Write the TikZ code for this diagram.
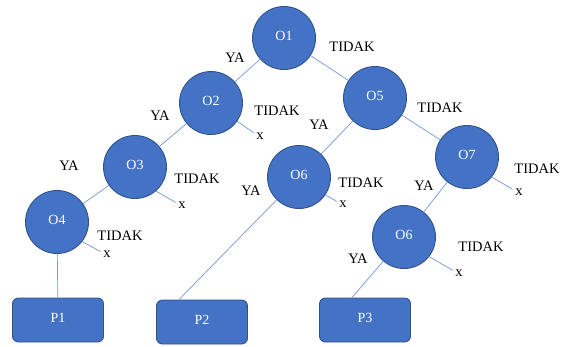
\documentclass[tikz,border=0pt]{standalone}
\usepackage{fontspec}
\setmainfont{Liberation Serif}
\usepackage{tikz}
\definecolor{nodeblue}{HTML}{4472C4}
\definecolor{nodeedge}{HTML}{2F528F}
\definecolor{linkblue}{HTML}{7396D6}
\tikzset{
  obs/.style={circle, fill=nodeblue, draw=nodeedge, line width=0.9pt, minimum size=63pt, inner sep=0pt, text=white, font=\fontsize{14pt}{16pt}\selectfont},
  leaf/.style={rectangle, rounded corners=6pt, fill=nodeblue, draw=nodeedge, line width=0.9pt, minimum width=91pt, minimum height=44pt, text=white, font=\fontsize{14pt}{16pt}\selectfont},
  link/.style={linkblue, line width=0.7pt},
  lbl/.style={inner sep=0pt},
  cross/.style={inner sep=2.5pt}
}

\begin{document}
\begin{tikzpicture}[x=1pt, y=-1pt, text height = 1.5ex, text depth = .25ex, font=\fontsize{14.5pt}{17pt}\selectfont]
\useasboundingbox (0,0) rectangle (561,346);
% circles
\node[obs] (o1) at (284,38) {O1};
\node[obs] (o2) at (211,103) {O2};
\node[obs] (o3) at (135,167) {O3};
\node[obs] (o4) at (57,222) {O4};
\node[obs] (o5) at (375,98) {O5};
\node[obs] (o6a) at (299,177) {O6};
\node[obs] (o7) at (467,157) {O7};
\node[obs] (o6b) at (404,237) {O6};
% boxes
\node[leaf] (p1) at (58,320) {P1};
\node[leaf] (p2) at (202,322) {P2};
\node[leaf] (p3) at (365,320) {P3};

% branches
\draw[link] (o1) -- (o2);
\draw[link] (o1) -- (o5);
\draw[link] (o2) -- (o3);
\draw[link] (o3) -- (o4);
\draw[link] (o4) -- (p1);
\draw[link] (o5) -- (o6a);
\draw[link] (o5) -- (o7);
\draw[link] (o6a) -- ([xshift=-23pt]p2.north);
\draw[link] (o7) -- (o6b);
\draw[link] (o6b) -- ([xshift=-13pt]p3.north);

% dead ends
\node[cross] (x2) at (260,137) {x};
\node[cross] (x3) at (182,206) {x};
\node[cross] (x4) at (107,255) {x};
\node[cross] (x6a) at (343,205) {x};
\node[cross] (x7) at (519,193) {x};
\node[cross] (x6b) at (459,274) {x};
\draw[link] (o2.-35) -- (x2);
\draw[link] (o3.-49) -- (x3);
\draw[link] (o4.-38) -- (x4);
\draw[link] (o6a.-34) -- (x6a);
\draw[link] (o7.-39) -- (x7);
\draw[link] (o6b.-38) -- (x6b);

% labels
\node[lbl] (ya1) at (235,60) {YA};
\node[lbl] (no1) at (352,49) {TIDAK};
\node[lbl] (ya2) at (160,118) {YA};
\node[lbl] (no2) at (277,113) {TIDAK};
\node[lbl] (ya3) at (69,168) {YA};
\node[lbl] (no3) at (197,181) {TIDAK};
\node[lbl] (no4) at (120,238) {TIDAK};
\node[lbl] (ya5) at (319,127) {YA};
\node[lbl] (no5) at (440,110) {TIDAK};
\node[lbl] (ya6a) at (251,193) {YA};
\node[lbl] (no6a) at (361,185) {TIDAK};
\node[lbl] (no7) at (537,171) {TIDAK};
\node[lbl] (ya7) at (424,188) {YA};
\node[lbl] (no6b) at (481,249) {TIDAK};
\node[lbl] (ya6b) at (358,261) {YA};
\end{tikzpicture}
\end{document}
